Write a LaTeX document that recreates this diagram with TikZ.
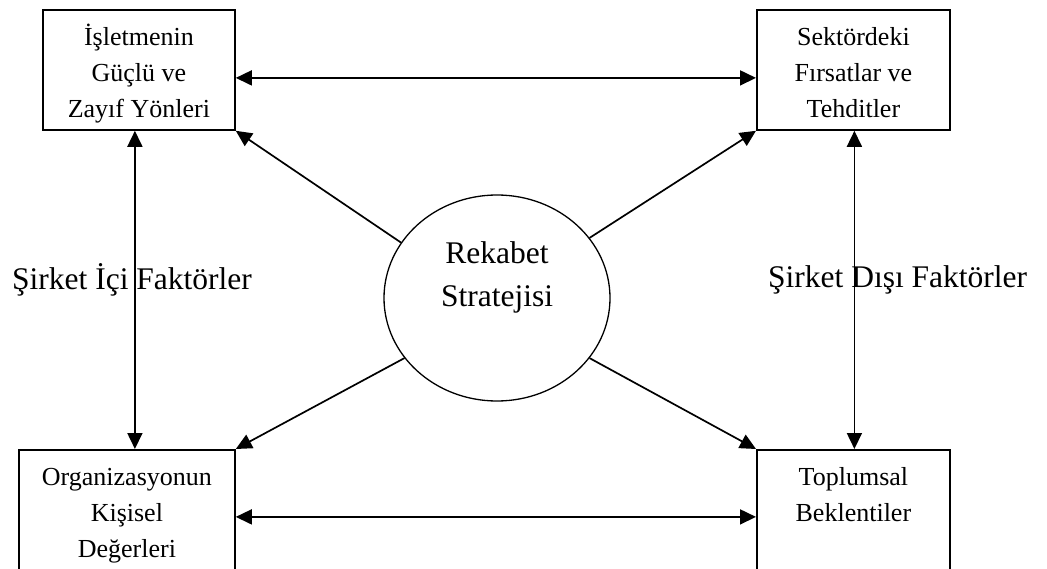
\documentclass[tikz,border=0pt]{standalone}
\usepackage{fontspec}
\setmainfont{Liberation Serif}
\usetikzlibrary{arrows.meta,shapes.geometric}

% Box text: top-aligned, centred lines, first baseline 36pt below the frame
\newcommand{\boxlines}[3]{%
  \begin{minipage}[t][#2pt][t]{#1pt}\centering
  \rule{0pt}{36pt}#3\end{minipage}}

\tikzset{
  factorbox/.style={draw, line width=1.8pt, rectangle, inner sep=0pt,
    font=\fontsize{26}{36}\selectfont},
  strategy/.style={draw, line width=1.3pt, ellipse, inner sep=0pt,
    minimum width=226pt, minimum height=206pt},
  circtext/.style={align=center, inner sep=0pt,
    font=\fontsize{31.5}{43}\selectfont},
  sidelabel/.style={inner sep=0pt, font=\fontsize{31.5}{38}\selectfont},
  link/.style={line width=1.7pt, -{Triangle[length=16pt,width=15pt]}},
  biglink/.style={line width=1.7pt,
    {Triangle[length=16pt,width=15pt]}-{Triangle[length=16pt,width=15pt]}}
}

\begin{document}
\begin{tikzpicture}[x=1pt,y=-1pt]
  \path[clip] (0,0) rectangle (1047,569);
  \fill[white] (0,0) rectangle (1047,569);

  % four factor boxes
  \node[factorbox, anchor=north west] (tl) at (42,9)
    {\boxlines{192}{120}{İşletmenin\\Güçlü ve\\Zayıf Yönleri}};
  \node[factorbox, anchor=north west] (tr) at (756,9)
    {\boxlines{193}{120}{Sektördeki\\Fırsatlar ve\\Tehditler}};
  \node[factorbox, anchor=north west] (bl) at (18,449)
    {\boxlines{216}{134}{Organizasyonun\\Kişisel\\Değerleri}};
  \node[factorbox, anchor=north west] (br) at (756,449)
    {\boxlines{193}{134}{Toplumsal\\Beklentiler}};

  % central strategy circle
  \node[strategy] (strat) at (497,298) {};
  \node[circtext] (stratname) at ([yshift=21pt]strat.center)
    {Rekabet\\Stratejisi};

  % side captions
  \node[sidelabel, anchor=base west] (inner) at (12,290)
    {Şirket İçi Faktörler};
  \node[sidelabel, anchor=base west] (outer) at (768,288)
    {Şirket Dışı Faktörler};

  % horizontal and vertical two-way links
  \draw[biglink] ([yshift=-8pt]tl.east) -- ([yshift=-8pt]tr.west);
  \draw[biglink] (bl.east) -- (br.west);
  \draw[biglink] ([xshift=-4pt]tl.south) -- ([xshift=-4pt]tl.south |- bl.north);
  \draw[biglink] ([xshift=1pt]tr.south) -- ([xshift=1pt]tr.south |- br.north);

  % links from the strategy to each box
  \draw[link] (strat.150) -- (tl.south east);
  \draw[link] (strat.33) -- (tr.south west);
  \draw[link] (strat.213) -- (bl.north east);
  \draw[link] (strat.327) -- (br.north west);
\end{tikzpicture}
\end{document}
